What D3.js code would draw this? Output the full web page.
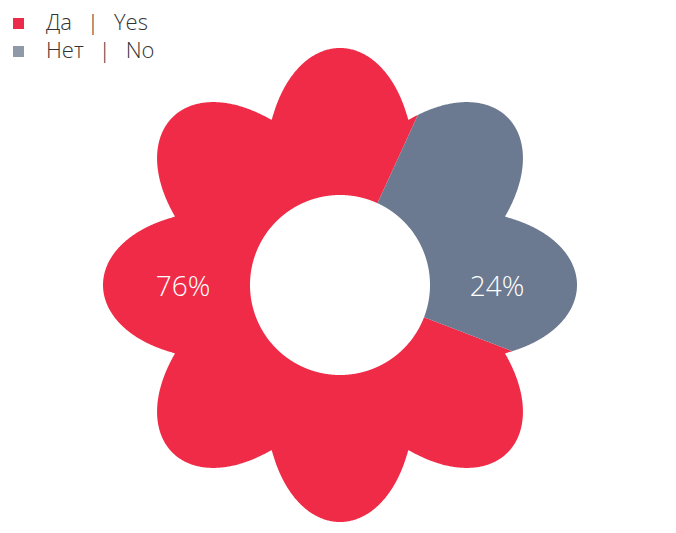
<!DOCTYPE html>
<html>
<head>
<meta charset="utf-8">
<script src="https://cdn.jsdelivr.net/npm/d3@7"></script>
<style>
  html, body { margin: 0; padding: 0; background: #fff; }
  svg { display: block; font-family: "Open Sans", sans-serif; }
</style>
</head>
<body>
<svg id="chart" width="676" height="533"></svg>
<script>
const legendRu = ["Да", "Нет"];
const legendEn = ["Yes", "No"];
const values = [76, 24];
const valueLabels = ["76%", "24%"];
const colors = ["#EF2B47", "#6B7A90"];
const legendColors = ["#EC2A49", "#8F99A8"];

const W = 676, H = 533;
const cx = 340, cy = 285;
const rTip = 237, rValley = 178.5, rInner = 90;
const petals = 8;

const svg = d3.select("#chart");

const rad = d => d * Math.PI / 180;
const outerR = a => rValley + (rTip - rValley) * Math.abs(Math.cos(petals / 2 * a));

const pie = d3.pie().sort(null).value(d => d).startAngle(rad(111)).endAngle(rad(111 + 360));
const arcs = pie(values);

const area = d3.areaRadial()
  .angle(d => d)
  .innerRadius(rInner)
  .outerRadius(d => outerR(d));

const g = svg.append("g").attr("transform", `translate(${cx},${cy})`);

arcs.forEach((a, i) => {
  const n = Math.ceil((a.endAngle - a.startAngle) / rad(0.2));
  const pts = d3.range(n + 1).map(k => a.startAngle + (a.endAngle - a.startAngle) * k / n);
  g.append("path")
    .attr("d", area(pts))
    .attr("fill", colors[i]);
});

// value labels on horizontal axis: first left, second right
const labelR = 157;
valueLabels.forEach((t, i) => {
  g.append("text")
    .attr("x", i === 0 ? -labelR : labelR)
    .attr("y", 0)
    .attr("text-anchor", "middle")
    .attr("dominant-baseline", "central")
    .attr("fill", "#fff")
    .attr("font-size", 28)
    .attr("font-weight", 300)
    .text(t);
});

// legend
const lg = svg.append("g");
legendRu.forEach((ru, i) => {
  const y = 30 + i * 28;
  lg.append("rect")
    .attr("x", 13).attr("y", y - 12)
    .attr("width", 11).attr("height", 11)
    .attr("fill", legendColors[i]);
  const t = lg.append("text")
    .attr("x", 46).attr("y", y)
    .attr("font-size", 22)
    .attr("font-weight", 300)
    .attr("fill", "#333");
  t.append("tspan").text(ru);
  t.append("tspan").attr("dx", 15).text("|");
  t.append("tspan").attr("dx", 15).text(legendEn[i]);
});
</script>
</body>
</html>
